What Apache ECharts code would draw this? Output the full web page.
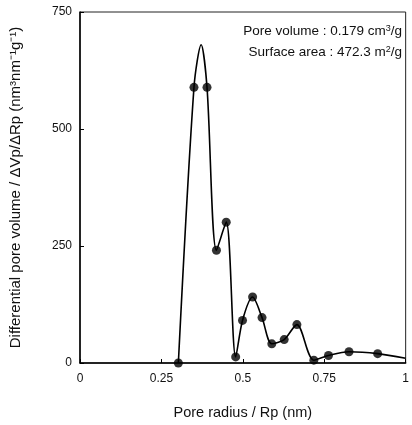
<!DOCTYPE html>
<html><head><meta charset="utf-8">
<script src="https://cdn.jsdelivr.net/npm/echarts@6/dist/echarts.min.js"></script>
<style>html,body{margin:0;padding:0;background:#fff}#c{width:412px;height:425px}</style>
</head><body><div id="c"></div>
<script>
// Measured marker points
var markerX = [0.302, 0.350, 0.390, 0.419, 0.449, 0.478, 0.499, 0.530, 0.559, 0.589, 0.627, 0.666, 0.718, 0.763, 0.826, 0.914];
var markerY = [0, 589, 589, 241, 301, 13, 91, 141, 97, 41, 50, 82, 6, 16, 24, 20];
// Fitted curve vertices (includes unmarked peak and right end)
var curveX = [0.302, 0.350, 0.372, 0.390, 0.419, 0.449, 0.478, 0.499, 0.530, 0.559, 0.589, 0.627, 0.666, 0.718, 0.763, 0.826, 0.914, 1.0];
var curveY = [0, 589, 680, 589, 241, 301, 13, 91, 141, 97, 41, 50, 82, 6, 16, 24, 20, 10];
var xTicks = [0, 0.25, 0.5, 0.75, 1];
var yTicks = [0, 250, 500, 750];

var font = 'Liberation Sans, Arial, Helvetica, sans-serif';
var chart = echarts.init(document.getElementById('c'));
chart.setOption({
  animation: false,
  backgroundColor: '#fff',
  grid: {left: 79, right: 2, top: 12, bottom: 58, show: true, borderColor: '#222', borderWidth: 1, containLabel: false},
  xAxis: {
    type: 'value', min: xTicks[0], max: xTicks[xTicks.length-1], interval: 0.25,
    name: 'Pore radius / Rp (nm)', nameLocation: 'middle', nameGap: 42,
    nameTextStyle: {fontFamily: font, fontSize: 14.5, color: '#111'},
    axisLine: {lineStyle: {color: '#000', width: 1.5}},
    axisTick: {inside: true, length: 4, lineStyle: {color: '#000'}},
    axisLabel: {fontFamily: font, fontSize: 12, color: '#111', margin: 10,
      formatter: function(v){return String(v);}},
    splitLine: {show: false}
  },
  yAxis: {
    type: 'value', min: yTicks[0], max: yTicks[yTicks.length-1], interval: 250,
    name: 'Differential pore volume / \u0394Vp/\u0394Rp (nm\u00b3nm\u207b\u00b9g\u207b\u00b9)',
    nameLocation: 'middle', nameGap: 57, nameRotate: 90,
    nameTextStyle: {fontFamily: font, fontSize: 15, color: '#111'},
    axisLine: {lineStyle: {color: '#000', width: 1.5}},
    axisTick: {inside: true, length: 4, lineStyle: {color: '#000'}},
    axisLabel: {fontFamily: font, fontSize: 12, color: '#111', margin: 8},
    splitLine: {show: false}
  },
  series: [
    {type: 'line', smooth: 0.3, showSymbol: false, symbol: 'none',
     lineStyle: {color: '#000', width: 1.6},
     data: curveX.map(function(x,i){return [x, curveY[i]];}), z: 2},
    {type: 'scatter', symbol: 'circle', symbolSize: 9,
     itemStyle: {color: '#000'},
     data: markerX.map(function(x,i){return [x, markerY[i]];}), z: 3}
  ],
  graphic: [
    {type: 'text', right: 10, top: 24, style: {
      text: 'Pore volume : 0.179 cm{s|3}/g',
      font: '13.5px ' + font, fill: '#111',
      rich: {s: {fontSize: 9, verticalAlign: 'top', padding: [0,0,6,0], fontFamily: font, fill: '#111'}}}},
    {type: 'text', right: 10, top: 45, style: {
      text: 'Surface area : 472.3 m{s|2}/g',
      font: '13.5px ' + font, fill: '#111',
      rich: {s: {fontSize: 9, verticalAlign: 'top', padding: [0,0,6,0], fontFamily: font, fill: '#111'}}}}
  ]
});
</script></body></html>
